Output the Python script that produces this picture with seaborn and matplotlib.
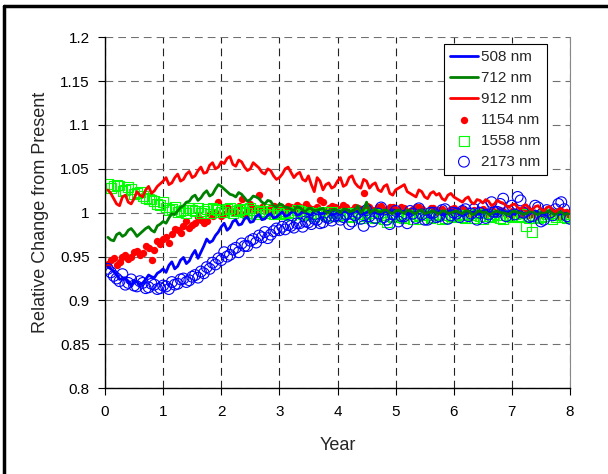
import numpy as np
import pandas as pd
import matplotlib
matplotlib.use('Agg')
import matplotlib.pyplot as plt
from matplotlib.lines import Line2D
from matplotlib.ticker import FuncFormatter
import seaborn as sns

# tempos (anos)
t_line = [0.1, 0.2, 0.3, 0.4, 0.5, 0.6, 0.7, 0.8, 0.9, 1.0,
          1.1, 1.2, 1.3, 1.4, 1.5, 1.6, 1.7, 1.8, 1.9, 2.0,
          2.1, 2.2, 2.3, 2.4, 2.5, 2.6, 2.7, 2.8, 2.9, 3.0,
          3.1, 3.2, 3.3, 3.4, 3.5, 3.6, 3.7, 3.8, 3.9, 4.0,
          4.1, 4.2, 4.3, 4.4, 4.5, 4.6, 4.7, 4.8, 4.9, 5.0,
          5.1, 5.2, 5.3, 5.4, 5.5, 5.6, 5.7, 5.8, 5.9, 6.0,
          6.1, 6.2, 6.3, 6.4, 6.5, 6.6, 6.7, 6.8, 6.9, 7.0,
          7.1, 7.2, 7.3, 7.4, 7.5, 7.6, 7.7, 7.8, 7.9, 8.0]
t_mark = [0.05, 0.15, 0.25, 0.35, 0.45, 0.55, 0.65, 0.75, 0.85, 0.95,
          1.05, 1.15, 1.25, 1.35, 1.45, 1.55, 1.65, 1.75, 1.85, 1.95,
          2.05, 2.15, 2.25, 2.35, 2.45, 2.55, 2.65, 2.75, 2.85, 2.95,
          3.05, 3.15, 3.25, 3.35, 3.45, 3.55, 3.65, 3.75, 3.85, 3.95,
          4.05, 4.15, 4.25, 4.35, 4.45, 4.55, 4.65, 4.75, 4.85, 4.95,
          5.05, 5.15, 5.25, 5.35, 5.45, 5.55, 5.65, 5.75, 5.85, 5.95,
          6.05, 6.15, 6.25, 6.35, 6.45, 6.55, 6.65, 6.75, 6.85, 6.95,
          7.05, 7.15, 7.25, 7.35, 7.45, 7.55, 7.65, 7.75, 7.85, 7.95]

# linhas: valores em t_line e valores intermediarios em t_mark
nm508 = [0.936, 0.929, 0.925, 0.921, 0.923, 0.918, 0.924, 0.927, 0.931, 0.936,
         0.940, 0.936, 0.946, 0.942, 0.952, 0.948, 0.962, 0.966, 0.974, 0.984,
         0.980, 0.990, 0.986, 0.993, 0.989, 0.996, 0.992, 0.997, 0.994, 0.998,
         0.996, 1.000, 0.997, 1.001, 0.998, 1.002, 0.999, 1.001, 0.998, 1.000,
         1.001, 0.999, 1.002, 0.998, 1.000, 1.001, 0.999, 1.002, 1.000, 0.999,
         1.001, 0.998, 1.000, 1.002, 0.999, 1.001, 1.000, 0.998, 1.001, 1.000,
         0.999, 1.001, 1.000, 0.998, 1.002, 1.000, 0.999, 1.001, 1.000, 0.999,
         1.001, 0.999, 1.000, 1.002, 0.999, 1.001, 1.000, 0.998, 1.000, 0.999]
nm508_mid = [0.938, 0.933, 0.924, 0.926, 0.917, 0.921, 0.920, 0.929, 0.926, 0.933,
             0.932, 0.944, 0.939, 0.949, 0.945, 0.957, 0.955, 0.970, 0.968, 0.978,
             0.988, 0.983, 0.992, 0.987, 0.995, 0.990, 0.998, 0.993, 0.999, 0.995,
             1.001, 0.997, 1.002, 0.998, 1.000, 0.997, 1.002, 0.999, 1.002, 0.998,
             0.998, 1.002, 0.999, 1.001, 0.999, 1.003, 1.000, 0.998, 1.001, 1.002,
             0.998, 1.002, 0.999, 1.000, 1.003, 0.999, 1.002, 1.001, 0.999, 1.002,
             1.002, 0.998, 1.002, 1.001, 0.999, 1.003, 1.001, 0.998, 1.002, 1.001,
             0.998, 1.002, 0.999, 1.001, 1.000, 0.998, 1.002, 1.001, 0.999, 1.001]

nm712 = [0.969, 0.975, 0.973, 0.980, 0.978, 0.976, 0.982, 0.980, 0.985, 0.990,
         0.994, 0.998, 1.006, 1.012, 1.018, 1.014, 1.022, 1.019, 1.027, 1.030,
         1.024, 1.020, 1.023, 1.017, 1.015, 1.018, 1.012, 1.014, 1.008, 1.010,
         1.006, 1.004, 1.007, 1.003, 1.005, 1.002, 1.004, 1.001, 1.003, 1.002,
         1.004, 1.001, 1.003, 1.000, 1.012, 1.002, 1.001, 1.003, 1.000, 1.002,
         1.001, 1.003, 1.000, 1.002, 0.999, 1.001, 1.000, 1.002, 0.999, 1.001,
         1.000, 1.002, 0.999, 1.001, 1.000, 0.998, 1.001, 1.000, 0.999, 1.001,
         1.000, 0.998, 1.001, 0.999, 1.000, 1.001, 0.999, 1.000, 0.998, 1.000]
nm712_mid = [0.972, 0.968, 0.977, 0.975, 0.982, 0.973, 0.979, 0.984, 0.978, 0.987,
             0.988, 0.999, 1.002, 1.008, 1.013, 1.020, 1.017, 1.025, 1.021, 1.032,
             1.027, 1.021, 1.018, 1.021, 1.013, 1.019, 1.016, 1.010, 1.013, 1.006,
             1.009, 1.006, 1.002, 1.006, 1.001, 1.005, 1.003, 1.005, 1.000, 1.004,
             1.000, 1.004, 1.002, 1.008, 1.004, 1.000, 1.004, 1.001, 1.003, 0.999,
             1.003, 0.999, 1.002, 0.999, 1.003, 1.000, 1.002, 0.999, 1.002, 1.000,
             1.002, 0.999, 1.002, 0.998, 1.002, 1.001, 0.999, 1.002, 1.000, 0.998,
             1.002, 1.000, 0.999, 1.002, 0.998, 1.000, 1.002, 0.998, 1.001, 0.999]

nm912 = [1.022, 1.010, 1.018, 1.012, 1.016, 1.020, 1.026, 1.022, 1.030, 1.036,
         1.032, 1.040, 1.036, 1.044, 1.040, 1.048, 1.045, 1.054, 1.050, 1.058,
         1.062, 1.055, 1.060, 1.052, 1.050, 1.054, 1.046, 1.050, 1.042, 1.040,
         1.050, 1.046, 1.044, 1.038, 1.042, 1.024, 1.036, 1.032, 1.028, 1.036,
         1.030, 1.040, 1.034, 1.028, 1.036, 1.032, 1.026, 1.030, 1.022, 1.026,
         1.030, 1.024, 1.020, 1.026, 1.018, 1.022, 1.020, 1.016, 1.020, 1.018,
         1.014, 1.016, 1.012, 1.015, 1.011, 1.013, 1.010, 1.012, 1.008, 1.009,
         1.006, 1.008, 1.005, 1.007, 1.004, 1.006, 1.003, 1.004, 1.002, 1.001]
nm912_mid = [1.026, 1.016, 1.008, 1.020, 1.010, 1.024, 1.018, 1.030, 1.025, 1.033,
             1.040, 1.034, 1.044, 1.038, 1.047, 1.042, 1.052, 1.046, 1.057, 1.052,
             1.056, 1.064, 1.053, 1.058, 1.048, 1.057, 1.051, 1.044, 1.048, 1.038,
             1.044, 1.052, 1.040, 1.046, 1.036, 1.032, 1.040, 1.026, 1.034, 1.030,
             1.040, 1.032, 1.042, 1.030, 1.038, 1.028, 1.034, 1.024, 1.032, 1.020,
             1.028, 1.032, 1.022, 1.018, 1.024, 1.016, 1.024, 1.022, 1.014, 1.022,
             1.016, 1.012, 1.018, 1.010, 1.014, 1.015, 1.008, 1.014, 1.011, 1.006,
             1.010, 1.004, 1.009, 1.003, 1.008, 1.002, 1.007, 1.001, 1.005, 1.003]

# marcadores: valores em t_mark e em t_line
nm1154 = [0.942, 0.948, 0.944, 0.952, 0.950, 0.956, 0.954, 0.960, 0.958, 0.964,
          0.972, 0.976, 0.980, 0.985, 0.983, 0.988, 0.992, 0.990, 0.996, 1.012,
          0.998, 1.003, 1.000, 1.016, 1.002, 1.005, 1.020, 1.004, 1.006, 1.003,
          1.005, 1.008, 1.003, 1.006, 1.010, 1.004, 1.007, 1.012, 1.005, 1.006,
          1.004, 1.007, 1.003, 1.005, 1.022, 1.006, 1.003, 1.008, 1.004, 1.006,
          1.003, 1.005, 1.002, 1.006, 1.004, 1.001, 1.005, 1.003, 1.000, 1.004,
          1.002, 1.004, 1.000, 1.003, 1.001, 0.998, 1.003, 1.000, 1.002, 0.999,
          1.001, 0.997, 1.002, 0.999, 0.996, 1.001, 0.998, 1.000, 0.995, 0.998]
nm1154_b = [0.946, 0.940, 0.950, 0.947, 0.955, 0.952, 0.962, 0.946, 0.968, 0.970,
            0.966, 0.982, 0.977, 0.990, 0.986, 0.995, 0.988, 0.998, 1.001, 0.996,
            1.006, 1.001, 1.008, 0.999, 1.010, 1.003, 1.006, 1.001, 1.008, 1.005,
            1.002, 1.006, 1.009, 1.003, 1.006, 1.004, 1.014, 1.002, 1.008, 1.003,
            1.009, 1.002, 1.006, 1.004, 1.008, 1.003, 1.007, 1.002, 1.006, 1.003,
            1.006, 1.001, 1.004, 1.007, 1.002, 1.005, 1.001, 1.004, 1.002, 1.005,
            1.001, 1.003, 0.999, 1.002, 1.004, 1.000, 1.001, 1.003, 0.998, 1.002,
            0.999, 1.003, 0.997, 1.000, 1.002, 0.997, 1.001, 0.996, 0.999, 0.997]

nm1558 = [1.033, 1.030, 1.031, 1.026, 1.027, 1.022, 1.019, 1.016, 1.013, 1.009,
          1.006, 1.004, 1.001, 1.003, 1.005, 1.002, 1.000, 1.004, 1.006, 1.003,
          1.001, 1.005, 1.002, 1.004, 1.000, 1.003, 1.001, 0.999, 1.002, 1.000,
          0.998, 1.001, 0.999, 1.002, 0.997, 1.000, 0.998, 1.001, 0.996, 0.999,
          0.997, 1.000, 0.995, 0.998, 0.996, 0.999, 0.994, 0.997, 0.989, 0.995,
          0.997, 0.994, 0.998, 0.996, 0.993, 0.997, 0.995, 0.998, 0.994, 0.996,
          0.997, 0.995, 0.998, 0.994, 0.996, 0.999, 0.995, 0.997, 0.993, 0.996,
          0.998, 0.995, 0.985, 0.978, 0.994, 0.996, 0.999, 0.995, 0.997, 0.994]
nm1558_b = [1.028, 1.032, 1.025, 1.029, 1.021, 1.024, 1.017, 1.015, 1.010, 1.012,
            1.003, 1.007, 1.002, 1.000, 1.003, 1.006, 1.002, 0.999, 1.004, 1.001,
            1.004, 0.999, 1.003, 1.001, 1.005, 0.998, 1.002, 1.004, 0.998, 1.002,
            1.000, 0.997, 1.003, 0.998, 1.001, 0.996, 1.000, 0.997, 1.001, 0.996,
            0.999, 0.996, 1.000, 0.994, 0.998, 0.995, 0.999, 0.993, 0.996, 0.998,
            0.995, 0.998, 0.993, 0.997, 0.999, 0.994, 0.997, 0.993, 0.997, 0.995,
            0.998, 0.994, 0.997, 0.999, 0.993, 0.996, 0.998, 0.994, 0.997, 0.995,
            0.996, 0.999, 0.994, 0.997, 0.995, 0.998, 0.993, 0.997, 0.995, 0.998]

nm2173 = [0.936, 0.928, 0.922, 0.918, 0.924, 0.916, 0.920, 0.915, 0.918, 0.914,
          0.916, 0.921, 0.919, 0.925, 0.923, 0.929, 0.933, 0.938, 0.943, 0.948,
          0.955, 0.952, 0.960, 0.965, 0.962, 0.970, 0.974, 0.978, 0.975, 0.982,
          0.984, 0.986, 0.983, 0.988, 0.990, 0.987, 0.992, 0.989, 0.994, 0.996,
          0.992, 0.998, 0.990, 1.000, 0.985, 0.996, 0.994, 1.006, 0.992, 0.998,
          0.990, 0.996, 1.002, 0.994, 0.998, 0.992, 1.000, 0.996, 1.004, 0.997,
          0.999, 1.002, 0.996, 1.004, 1.000, 0.994, 1.012, 1.001, 1.016, 1.002,
          0.998, 1.014, 1.002, 0.996, 1.006, 0.992, 1.000, 1.004, 1.012, 0.996]
nm2173_b = [0.932, 0.925, 0.930, 0.920, 0.917, 0.922, 0.914, 0.919, 0.913, 0.917,
            0.913, 0.918, 0.924, 0.921, 0.927, 0.926, 0.931, 0.936, 0.941, 0.946,
            0.950, 0.958, 0.955, 0.962, 0.968, 0.966, 0.972, 0.971, 0.979, 0.980,
            0.981, 0.985, 0.988, 0.984, 0.989, 0.993, 0.988, 0.995, 0.991, 0.997,
            0.995, 0.987, 0.997, 0.993, 1.003, 0.990, 0.999, 0.995, 0.987, 1.002,
            0.996, 0.988, 0.999, 1.005, 0.992, 1.000, 0.995, 1.003, 0.993, 1.000,
            0.995, 1.004, 0.999, 0.992, 1.006, 0.998, 1.001, 1.010, 0.996, 1.008,
            1.018, 1.000, 0.995, 1.008, 0.990, 1.003, 0.997, 1.010, 1.004, 0.993]

sns.set_style('white')
plt.rcParams['font.family'] = ['Liberation Sans', 'DejaVu Sans']

fig = plt.figure(figsize=(6.08, 4.74), dpi=100)
ax = fig.add_axes([0.1727, 0.181, 0.7648, 0.7405])

t_all_l = t_line + t_mark
t_all_m = t_mark + t_line

# linhas
sns.lineplot(x=t_all_l, y=nm508 + nm508_mid, color='#0000ff', lw=2, label='508 nm', ax=ax)
sns.lineplot(x=t_all_l, y=nm712 + nm712_mid, color='#008000', lw=2, label='712 nm', ax=ax)
sns.lineplot(x=t_all_l, y=nm912 + nm912_mid, color='#ff0000', lw=2, label='912 nm', ax=ax)
# marcadores
sns.scatterplot(x=t_all_m, y=nm1154 + nm1154_b, marker='o', s=28, color='#ff0000',
                linewidth=0, label='1154 nm', ax=ax)
sns.scatterplot(x=t_all_m, y=nm1558 + nm1558_b, marker='s', s=50, fc='none', ec='#00ff00',
                linewidth=0.8, label='1558 nm', ax=ax)
sns.scatterplot(x=t_all_m, y=nm2173 + nm2173_b, marker='o', s=60, fc='none', ec='#0000ff',
                linewidth=0.8, label='2173 nm', ax=ax)

ax.set_xlim(0, 8)
ax.set_ylim(0.8, 1.2)
ax.set_xticks(range(0, 9))
ax.set_yticks([0.8, 0.85, 0.9, 0.95, 1.0, 1.05, 1.1, 1.15, 1.2])
ax.yaxis.set_major_formatter(FuncFormatter(lambda v, p: '%g' % round(v, 2)))
ax.tick_params(axis='both', direction='out', length=5, width=0.8, labelsize=11,
               colors='black', left=True, bottom=True)
ax.tick_params(axis='x', pad=7)
ax.tick_params(axis='y', pad=6)

ax.xaxis.grid(True, color='#222222', linestyle=(0, (7, 4.5)), lw=0.8)
ax.yaxis.grid(True, color='#707070', linestyle=(0, (7, 4.5)), lw=0.8)
ax.set_axisbelow(True)

ax.spines['top'].set_visible(False)
ax.spines['right'].set_color('#888888')
ax.spines['right'].set_linewidth(0.8)
for s in ['left', 'bottom']:
    ax.spines[s].set_color('black')
    ax.spines[s].set_linewidth(1.0)

ax.set_xlabel('Year', fontsize=13, labelpad=13)
ax.set_ylabel('Relative Change from Present', fontsize=13, labelpad=8)

leg = ax.legend(loc='upper right', bbox_to_anchor=(0.9505, 0.98), borderaxespad=0,
                fontsize=11, frameon=True, fancybox=False, framealpha=1,
                edgecolor='black', handlelength=1.8, handletextpad=0.25,
                labelspacing=0.45, borderpad=0.4, scatterpoints=1)
leg.get_frame().set_linewidth(0.8)

# moldura da figura (esquerda e topo)
fig.add_artist(Line2D([3.5 / 608, 3.5 / 608], [0, 1 - 6 / 474], transform=fig.transFigure,
                      color='black', lw=2.5))
fig.add_artist(Line2D([3.5 / 608, 1], [1 - 6 / 474, 1 - 6 / 474], transform=fig.transFigure,
                      color='black', lw=2.5))

plt.savefig('out.png', dpi=100)
